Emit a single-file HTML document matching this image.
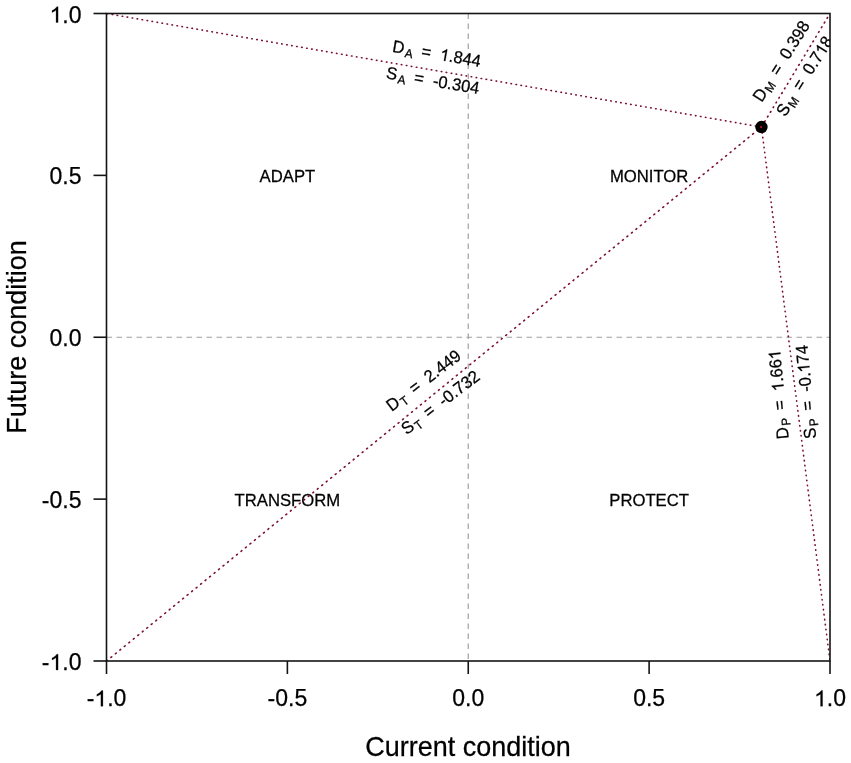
<!DOCTYPE html><html><head><meta charset="utf-8"><title>Current vs future condition</title><style>html,body{margin:0;padding:0;background:#fff;}svg{display:block;will-change:transform;}text{font-family:"Liberation Sans",sans-serif;fill:#000;stroke:#000;stroke-width:0.25px;}.one{fill-opacity:0;stroke-opacity:0;}.o1{stroke:#000;stroke-width:0.25px;vector-effect:non-scaling-stroke;}</style></head><body>
<svg width="851" height="763" viewBox="0 0 851 763">
<defs><clipPath id="pc"><rect x="106.5" y="13.5" width="723.5" height="647.5"/></clipPath></defs>
<rect width="851" height="763" fill="#fff"/>
<g clip-path="url(#pc)" stroke="#a0a0a0" stroke-width="1.2" stroke-dasharray="5.6 4.4">
<line x1="106.5" y1="337.25" x2="830.0" y2="337.25"/>
<line x1="468.25" y1="13.5" x2="468.25" y2="661.0"/>
</g>
<text transform="translate(287.38 182.38) scale(1 1.040)" font-size="16.7" text-anchor="middle">ADAPT</text>
<text transform="translate(649.12 182.38) scale(1 1.040)" font-size="16.7" text-anchor="middle">MONITOR</text>
<text transform="translate(287.38 506.12) scale(1 1.040)" font-size="16.7" text-anchor="middle">TRANSFORM</text>
<text transform="translate(649.12 506.12) scale(1 1.040)" font-size="16.7" text-anchor="middle">PROTECT</text>
<g clip-path="url(#pc)" stroke="#7c0f2b" stroke-width="1.6" stroke-linecap="round">
<line x1="106.50" y1="13.50" x2="761.45" y2="127.04" stroke-dasharray="0.50 4.56" stroke-dashoffset="-0.70"/>
<line x1="830.00" y1="13.50" x2="761.45" y2="127.04" stroke-dasharray="0.90 4.59" stroke-dashoffset="0.80"/>
<line x1="106.50" y1="661.00" x2="761.45" y2="127.04" stroke-dasharray="1.00 4.79" stroke-dashoffset="0.10"/>
<line x1="830.00" y1="661.00" x2="761.45" y2="127.04" stroke-dasharray="0.50 4.51" stroke-dashoffset="-1.40"/>
</g>
<circle cx="761.45" cy="127.04" r="6.2" fill="#000"/>
<circle cx="761.15" cy="127.04" r="1.1" fill="#d0101a"/>
<g clip-path="url(#pc)">
<g transform="translate(433.97 70.27) rotate(9.83)">
<text id="t1" transform="translate(0.00 -11.00) scale(1 1.040)" font-size="16.5" text-anchor="middle">D<tspan font-size="11.9" dy="3" dx="1.2">A</tspan><tspan dy="-3" dx="8.3">=</tspan><tspan dx="9.2"><tspan class="one">1</tspan>.844</tspan></text><path class="o1" transform="translate(0.00 -11.00) scale(1 1.040) translate(3.446 0.000) scale(0.00806 -0.00774)" d="M763 0L583 0L583 1147Q518 1085 412.5 1023Q307 961 223 930L223 1104Q374 1175 485.5 1274.5Q597 1374 647 1466L763 1466Z"/>
<text transform="translate(0.70 16.00) scale(1 1.040)" font-size="16.5" text-anchor="middle">S<tspan font-size="11.9" dy="3" dx="1.2">A</tspan><tspan dy="-3" dx="8.3">=</tspan><tspan dx="9.2">-0.304</tspan></text>
</g>
<g transform="translate(795.72 70.27) rotate(-57.80)">
<text transform="translate(0.00 -11.40) scale(1 1.040)" font-size="16.5" text-anchor="middle">D<tspan font-size="11.9" dy="3" dx="1.2">M</tspan><tspan dy="-3" dx="8.3">=</tspan><tspan dx="9.2">0.398</tspan></text>
<text id="t2" transform="translate(-0.20 16.40) scale(1 1.040)" font-size="16.5" text-anchor="middle">S<tspan font-size="11.9" dy="3" dx="1.2">M</tspan><tspan dy="-3" dx="8.3">=</tspan><tspan dx="9.2">0.7<tspan class="one">1</tspan>8</tspan></text><path class="o1" transform="translate(-0.20 16.40) scale(1 1.040) translate(26.925 0.000) scale(0.00806 -0.00774)" d="M763 0L583 0L583 1147Q518 1085 412.5 1023Q307 961 223 930L223 1104Q374 1175 485.5 1274.5Q597 1374 647 1466L763 1466Z"/>
</g>
<g transform="translate(433.97 394.02) rotate(-37.40)">
<text transform="translate(0.00 -11.30) scale(1 1.040)" font-size="16.5" text-anchor="middle">D<tspan font-size="11.9" dy="3" dx="1.2">T</tspan><tspan dy="-3" dx="8.3">=</tspan><tspan dx="9.2">2.449</tspan></text>
<text transform="translate(0.00 16.30) scale(1 1.040)" font-size="16.5" text-anchor="middle">S<tspan font-size="11.9" dy="3" dx="1.2">T</tspan><tspan dy="-3" dx="8.3">=</tspan><tspan dx="9.2">-0.732</tspan></text>
</g>
<g transform="translate(795.72 394.02) rotate(-95.50)">
<text id="t3" transform="translate(1.00 -11.30) scale(1 1.040)" font-size="16.5" text-anchor="middle">D<tspan font-size="11.9" dy="3" dx="1.2">P</tspan><tspan dy="-3" dx="8.3">=</tspan><tspan dx="9.2"><tspan class="one">1</tspan>.66<tspan class="one">1</tspan></tspan></text><path class="o1" transform="translate(1.00 -11.30) scale(1 1.040) translate(3.446 0.000) scale(0.00806 -0.00774)" d="M763 0L583 0L583 1147Q518 1085 412.5 1023Q307 961 223 930L223 1104Q374 1175 485.5 1274.5Q597 1374 647 1466L763 1466Z"/><path class="o1" transform="translate(1.00 -11.30) scale(1 1.040) translate(35.563 0.000) scale(0.00806 -0.00774)" d="M763 0L583 0L583 1147Q518 1085 412.5 1023Q307 961 223 930L223 1104Q374 1175 485.5 1274.5Q597 1374 647 1466L763 1466Z"/>
<text id="t4" transform="translate(1.00 16.30) scale(1 1.040)" font-size="16.5" text-anchor="middle">S<tspan font-size="11.9" dy="3" dx="1.2">P</tspan><tspan dy="-3" dx="8.3">=</tspan><tspan dx="9.2">-0.<tspan class="one">1</tspan>74</tspan></text><path class="o1" transform="translate(1.00 16.30) scale(1 1.040) translate(19.504 0.000) scale(0.00806 -0.00774)" d="M763 0L583 0L583 1147Q518 1085 412.5 1023Q307 961 223 930L223 1104Q374 1175 485.5 1274.5Q597 1374 647 1466L763 1466Z"/>
</g>
</g>
<rect x="106.5" y="13.5" width="723.5" height="647.5" fill="none" stroke="#141414" stroke-width="1.6"/>
<g stroke="#141414" stroke-width="1.6">
<line x1="106.50" y1="661.0" x2="106.50" y2="674.0"/>
<line x1="93.5" y1="661.00" x2="106.5" y2="661.00"/>
<line x1="287.38" y1="661.0" x2="287.38" y2="674.0"/>
<line x1="93.5" y1="499.12" x2="106.5" y2="499.12"/>
<line x1="468.25" y1="661.0" x2="468.25" y2="674.0"/>
<line x1="93.5" y1="337.25" x2="106.5" y2="337.25"/>
<line x1="649.12" y1="661.0" x2="649.12" y2="674.0"/>
<line x1="93.5" y1="175.38" x2="106.5" y2="175.38"/>
<line x1="830.00" y1="661.0" x2="830.00" y2="674.0"/>
<line x1="93.5" y1="13.50" x2="106.5" y2="13.50"/>
</g>
<text id="t5" transform="translate(106.50 706.30)" font-size="23" text-anchor="middle">-<tspan class="one">1</tspan>.0</text><path class="o1" transform="translate(106.50 706.30) translate(-12.156 0.000) scale(0.01123 -0.01079)" d="M763 0L583 0L583 1147Q518 1085 412.5 1023Q307 961 223 930L223 1104Q374 1175 485.5 1274.5Q597 1374 647 1466L763 1466Z"/>
<text id="t6" transform="translate(81.50 670.00)" font-size="23" text-anchor="end">-<tspan class="one">1</tspan>.0</text><path class="o1" transform="translate(81.50 670.00) translate(-31.984 0.000) scale(0.01123 -0.01079)" d="M763 0L583 0L583 1147Q518 1085 412.5 1023Q307 961 223 930L223 1104Q374 1175 485.5 1274.5Q597 1374 647 1466L763 1466Z"/>
<text transform="translate(287.38 706.30)" font-size="23" text-anchor="middle">-0.5</text>
<text transform="translate(81.50 508.12)" font-size="23" text-anchor="end">-0.5</text>
<text transform="translate(468.25 706.30)" font-size="23" text-anchor="middle">0.0</text>
<text transform="translate(81.50 346.25)" font-size="23" text-anchor="end">0.0</text>
<text transform="translate(649.12 706.30)" font-size="23" text-anchor="middle">0.5</text>
<text transform="translate(81.50 184.38)" font-size="23" text-anchor="end">0.5</text>
<text id="t7" transform="translate(830.00 706.30)" font-size="23" text-anchor="middle"><tspan class="one">1</tspan>.0</text><path class="o1" transform="translate(830.00 706.30) translate(-15.992 0.000) scale(0.01123 -0.01079)" d="M763 0L583 0L583 1147Q518 1085 412.5 1023Q307 961 223 930L223 1104Q374 1175 485.5 1274.5Q597 1374 647 1466L763 1466Z"/>
<text id="t8" transform="translate(81.50 22.50)" font-size="23" text-anchor="end"><tspan class="one">1</tspan>.0</text><path class="o1" transform="translate(81.50 22.50) translate(-31.984 0.000) scale(0.01123 -0.01079)" d="M763 0L583 0L583 1147Q518 1085 412.5 1023Q307 961 223 930L223 1104Q374 1175 485.5 1274.5Q597 1374 647 1466L763 1466Z"/>
<text transform="translate(468.00 756.40) scale(1 1.040)" font-size="27" text-anchor="middle">Current condition</text>
<text transform="translate(25.70 337.00) rotate(-90.00) scale(1 1.040)" font-size="27" text-anchor="middle">Future condition</text>
</svg></body></html>
